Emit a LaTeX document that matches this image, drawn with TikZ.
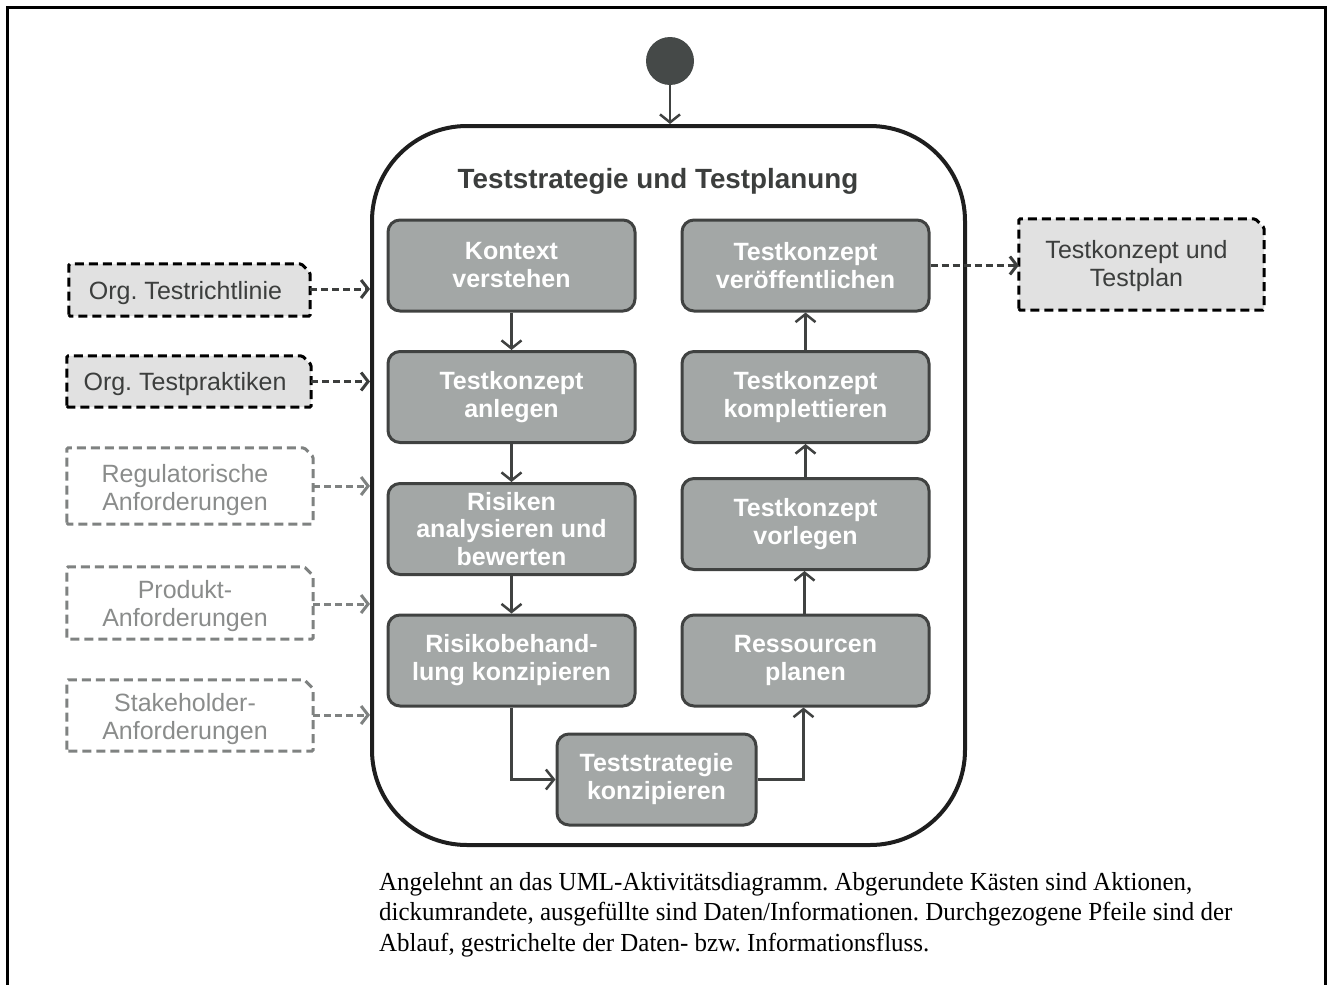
\documentclass[tikz,border=0pt]{standalone}
\usepackage{fontspec}
\usepackage{graphicx}
\setmainfont{Liberation Serif}
\newfontfamily\arialfont{Liberation Sans}
\usetikzlibrary{arrows.meta,backgrounds}
\definecolor{actfill}{HTML}{A3A7A6}
\definecolor{actdraw}{HTML}{404241}
\definecolor{datafill}{HTML}{E1E1E1}
\definecolor{datatext}{HTML}{3C3E3D}
\definecolor{grayline}{HTML}{7F8281}
\definecolor{graytext}{HTML}{8A8C8B}
\definecolor{initfill}{HTML}{454948}
\definecolor{framecol}{HTML}{1E1E1E}
\tikzset{
  action/.style={rectangle, rounded corners=12pt, draw=actdraw, line width=3pt, fill=actfill,
    text=white, font=\arialfont\bfseries\fontsize{25}{28}\selectfont, align=center,
    minimum width=247pt, minimum height=91pt, inner sep=0pt},
  datanode/.style={rectangle, inner sep=0pt, align=center,
    font=\arialfont\fontsize{25}{28}\selectfont},
  darkdata/.style={datanode, text=datatext},
  lightdata/.style={datanode, text=graytext},
  darkborder/.style={draw=black, fill=datafill, line width=3pt, dash pattern=on 9pt off 5pt, rounded corners=1.5pt},
  lightborder/.style={draw=grayline, line width=3pt, dash pattern=on 9pt off 5pt, rounded corners=1.5pt},
  flow/.style={draw=actdraw, line width=2.5pt, -{Straight Barb[length=8pt,width=20pt]}},
  dataflow/.style={draw=datatext, line width=3pt, dash pattern=on 7pt off 4pt, -{Straight Barb[length=7pt,width=18pt]}},
  lightflow/.style={draw=grayline, line width=3pt, dash pattern=on 7pt off 4pt, -{Straight Barb[length=7pt,width=18pt]}},
}
\begin{document}
\frenchspacing
\begin{tikzpicture}[x=1pt,y=-1pt]
\useasboundingbox (0,0) rectangle (1328,985);
% frame
\draw[line width=3pt, black] (7,990) -- (7,7) -- (1325,7) -- (1325,990);
% initial node
\node[circle, fill=initfill, minimum size=48pt, inner sep=0pt] (init) at (670,61) {};
% main activity
\node[rectangle, rounded corners=95pt, draw=framecol, line width=4pt, minimum width=593pt, minimum height=719pt, inner sep=0pt] (main) at (668.5,485.5) {};
\node[font=\arialfont\bfseries\fontsize{27.8}{30}\selectfont, text=datatext] (title) at (658,181) {Teststrategie und Testplanung};
% actions
\node[action] (a1) at (511.5,265.5) {Kontext\\verstehen};
\node[action] (a2) at (511.5,397) {Testkonzept\\anlegen};
\node[action, font=\arialfont\bfseries\fontsize{25}{27.3}\selectfont] (a3) at (511.5,529) {Risiken\\analysieren und\\bewerten};
\node[action] (a4) at (511.5,660.5) {Risikobehand-\\lung konzipieren};
\node[action] (b1) at (805.5,265.5) {Testkonzept\\veröffentlichen};
\node[action] (b2) at (805.5,397) {Testkonzept\\komplettieren};
\node[action] (b3) at (805.5,524) {Testkonzept\\vorlegen};
\node[action] (b4) at (805.5,660.5) {Ressourcen\\planen};
\node[action, minimum width=199pt] (c) at (656.5,779.5) {Teststrategie\\konzipieren};
% data nodes (text offset inside the drawn border)
\node[darkdata, minimum width=241pt, minimum height=52pt] (d1) at (185.5,293) {Org. Testrichtlinie};
\node[darkdata, minimum width=244pt, minimum height=51pt] (d2) at (185,384.5) {Org. Testpraktiken};
\node[lightdata, minimum width=246pt, minimum height=76pt] (d3) at (185,490) {Regulatorische\\Anforderungen};
\node[lightdata, minimum width=246pt, minimum height=72pt] (d4) at (185,606) {Produkt-\\Anforderungen};
\node[lightdata, minimum width=246pt, minimum height=71pt] (d5) at (185,719) {Stakeholder-\\Anforderungen};
\node[darkdata, minimum width=245pt, minimum height=91pt] (d6) at (1136.5,266.5) {Testkonzept und\\Testplan};
\begin{scope}[on background layer]
\foreach \n/\dx/\dy in {d1/4/3,d2/4/3,d6/5/2}
  \path[darkborder] ([xshift=\dx pt,yshift=\dy pt]\n.south west) -- ([xshift=\dx pt,yshift=\dy pt]\n.north west) -- ([xshift=\dx pt-9pt,yshift=\dy pt]\n.north east) -- ([xshift=\dx pt,yshift=\dy pt-9pt]\n.north east) -- ([xshift=\dx pt,yshift=\dy pt]\n.south east) -- cycle;
\foreach \n/\dx/\dy in {d3/5/4,d4/5/3,d5/5/3.5}
  \path[lightborder] ([xshift=\dx pt,yshift=\dy pt]\n.south west) -- ([xshift=\dx pt,yshift=\dy pt]\n.north west) -- ([xshift=\dx pt-9pt,yshift=\dy pt]\n.north east) -- ([xshift=\dx pt,yshift=\dy pt-9pt]\n.north east) -- ([xshift=\dx pt,yshift=\dy pt]\n.south east) -- cycle;
\end{scope}
% control flow
\draw[flow] (init.south) -- (init.south |- main.north);
\draw[flow] (a1) -- (a2);
\draw[flow] (a2) -- (a3);
\draw[flow] (a3) -- (a4);
\draw[flow] (a4.south) |- (c.west);
\draw[flow] (c.east) -| ([xshift=-2pt]b4.south);
\draw[flow] ([xshift=-1pt]b4.north) -- ([xshift=-1pt]b3.south);
\draw[flow] (b3) -- (b2);
\draw[flow] (b2) -- (b1);
% data flow
\draw[dataflow] ([xshift=4pt,yshift=4pt]d1.east) -- ([yshift=4pt]d1.east -| main.west);
\draw[dataflow] ([xshift=4pt,yshift=3pt]d2.east) -- ([yshift=3pt]d2.east -| main.west);
\draw[lightflow] ([xshift=5pt,yshift=4pt]d3.east) -- ([yshift=4pt]d3.east -| main.west);
\draw[lightflow] ([xshift=5pt,yshift=2pt]d4.east) -- ([yshift=2pt]d4.east -| main.west);
\draw[lightflow] ([xshift=5pt,yshift=4pt]d5.east) -- ([yshift=4pt]d5.east -| main.west);
\draw[dataflow] (b1.east) -- ([xshift=5pt]b1.east -| d6.west);
% caption
\node[anchor=base west, align=left, inner sep=0pt, font=\fontsize{26}{30.5}\selectfont] (cap) at (379,951)
{\scalebox{0.96}[1]{Angelehnt an das UML-Aktivitätsdiagramm. Abgerundete Kästen sind Aktionen,}\\
 \scalebox{0.96}[1]{dickumrandete, ausgefüllte sind Daten/Informationen. Durchgezogene Pfeile sind der}\\
 \scalebox{0.96}[1]{Ablauf, gestrichelte der Daten- bzw. Informationsfluss.}};
\end{tikzpicture}
\end{document}
